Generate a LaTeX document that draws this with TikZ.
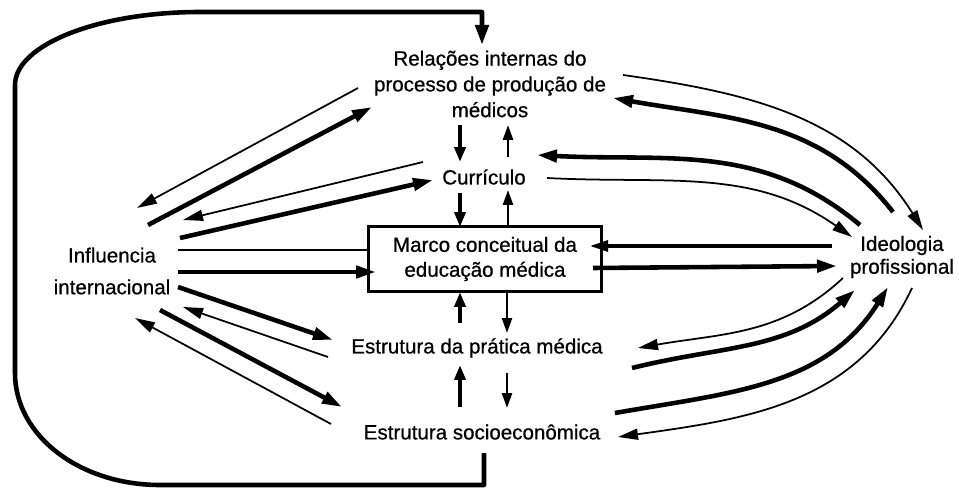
\documentclass[tikz,border=0pt]{standalone}
\usepackage{fontspec}
\setmainfont{Liberation Sans}[FakeBold=0.7]
\usetikzlibrary{arrows.meta}

\tikzstyle{every node}=[text centered, font=\fontsize{11.7}{14.7}\selectfont, inner sep=1pt]

\begin{document}
\begin{tikzpicture}[x=0.02cm, y=-0.02cm,
  bigarrow/.style={line width=2.6pt, -{Triangle[length=4mm, width=2.4mm]}},
  midarrow/.style={line width=1.8pt, -{Triangle[length=3.6mm, width=2.2mm]}},
  smallarrow/.style={line width=1pt, -{Triangle[length=4mm, width=2.2mm]}},
  vbig/.style={line width=2.4pt, -{Triangle[length=3mm, width=2.2mm]}},
  vsmall/.style={line width=1.5pt, -{Triangle[length=3mm, width=2mm]}}]
  \useasboundingbox (0,0) rectangle (959,489);

  \node[align=center] (rel) at (490,84) {Relações internas do\\processo de produção de\\médicos};
  \node (cur) at (484,177) {Currículo};
  \node[draw, line width=1.7pt, minimum width=4.66cm, minimum height=1.3cm, align=center,
        font=\fontsize{11.7}{14.2}\selectfont] (marco) at (485,259) {Marco conceitual da\\educação médica};
  \node[align=center, font=\fontsize{11.7}{18.1}\selectfont] (inf) at (112,271) {Influencia\\internacional};
  \node[align=center, font=\fontsize{11.7}{13}\selectfont] (ideo) at (902,257) {Ideologia\\profissional};
  \node (prat) at (477,348) {Estrutura da prática médica};
  \node (socio) at (482,432) {Estrutura socioeconômica};

  % outer loop
  \draw[line width=2.6pt, line join=round, -{Triangle[length=4mm, width=2.6mm]}]
    ([shift={(2,21)}]socio.center) -- (484,485) -- (160,485)
    .. controls (80,485) and (15,436) .. (15,373) -- (15,85)
    .. controls (15,45) and (98,12) .. (200,12) -- (482,12) -- ([shift={(-8,-39)}]rel.center);

  % central column
  \draw[vbig] ([shift={(-30,41)}]rel.center) -- ([shift={(-24,-15)}]cur.center);
  \draw[vsmall] ([shift={(24,-20)}]cur.center) -- ([shift={(18,41)}]rel.center);
  \draw[vbig] ([shift={(-24,16)}]cur.center) -- ([shift={(-25,-32)}]marco.center);
  \draw[vsmall] ([shift={(23,-32)}]marco.center) -- ([shift={(24,13)}]cur.center);
  \draw[vbig] ([shift={(-17,-25)}]prat.center) -- ([shift={(-25,33)}]marco.center);
  \draw[vsmall] ([shift={(22,33)}]marco.center) -- ([shift={(30,-15)}]prat.center);
  \draw[vbig] ([shift={(-22,-25)}]socio.center) -- ([shift={(-17,17)}]prat.center);
  \draw[vsmall] ([shift={(30,25)}]prat.center) -- ([shift={(25,-24)}]socio.center);

  % influencia internacional
  \draw[smallarrow] ([shift={(-132,4)}]rel.center) -- ([shift={(25,-63)}]inf.center);
  \draw[bigarrow] ([shift={(36,-46)}]inf.center) -- ([shift={(-118,23)}]rel.center);
  \draw[smallarrow] ([shift={(-61,-15)}]cur.center) -- ([shift={(71,-51)}]inf.center);
  \draw[bigarrow] ([shift={(68,-33)}]inf.center) -- ([shift={(-51,3)}]cur.center);
  \draw[line width=1.4pt] ([shift={(66,-21)}]inf.center) -- ([shift={(-116,-9)}]marco.center);
  \draw[bigarrow] ([shift={(66,1)}]inf.center) -- ([shift={(-109,13)}]marco.center);
  \draw[bigarrow] ([shift={(66,16)}]inf.center) -- ([shift={(-144,-8)}]prat.center);
  \draw[smallarrow] ([shift={(-149,9)}]prat.center) -- ([shift={(71,36)}]inf.center);
  \draw[bigarrow] ([shift={(48,39)}]inf.center) -- ([shift={(-140,-25)}]socio.center);
  \draw[smallarrow] ([shift={(-151,-8)}]socio.center) -- ([shift={(23,47)}]inf.center);

  % ideologia profissional
  \draw[smallarrow] ([shift={(133,-9)}]rel.center) to[out=-8, in=122] ([shift={(21,-27)}]ideo.center);
  \draw[bigarrow] ([shift={(-9,-45)}]ideo.center) to[out=128, in=-10] ([shift={(123,14)}]rel.center);
  \draw[bigarrow] ([shift={(-42,-32)}]ideo.center) to[out=140, in=-3] ([shift={(53,-22)}]cur.center);
  \draw[smallarrow] ([shift={(63,1)}]cur.center) to[out=-3, in=145] ([shift={(-50,-20)}]ideo.center);
  \draw[midarrow] ([shift={(-70,-11)}]ideo.center) -- ([shift={(105,-13)}]marco.center);
  \draw[bigarrow] ([shift={(108,9)}]marco.center) -- ([shift={(-65,9)}]ideo.center);
  \draw[smallarrow] ([shift={(-59,21)}]ideo.center) to[out=223, in=10] ([shift={(161,0)}]prat.center);
  \draw[bigarrow] ([shift={(155,20)}]prat.center) to[out=14, in=-139] ([shift={(-47,33)}]ideo.center);
  \draw[bigarrow] ([shift={(133,-19)}]socio.center) to[out=10, in=-122] ([shift={(-14,30)}]ideo.center);
  \draw[smallarrow] ([shift={(10,31)}]ideo.center) to[out=-115, in=8] ([shift={(136,5)}]socio.center);
\end{tikzpicture}
\end{document}
